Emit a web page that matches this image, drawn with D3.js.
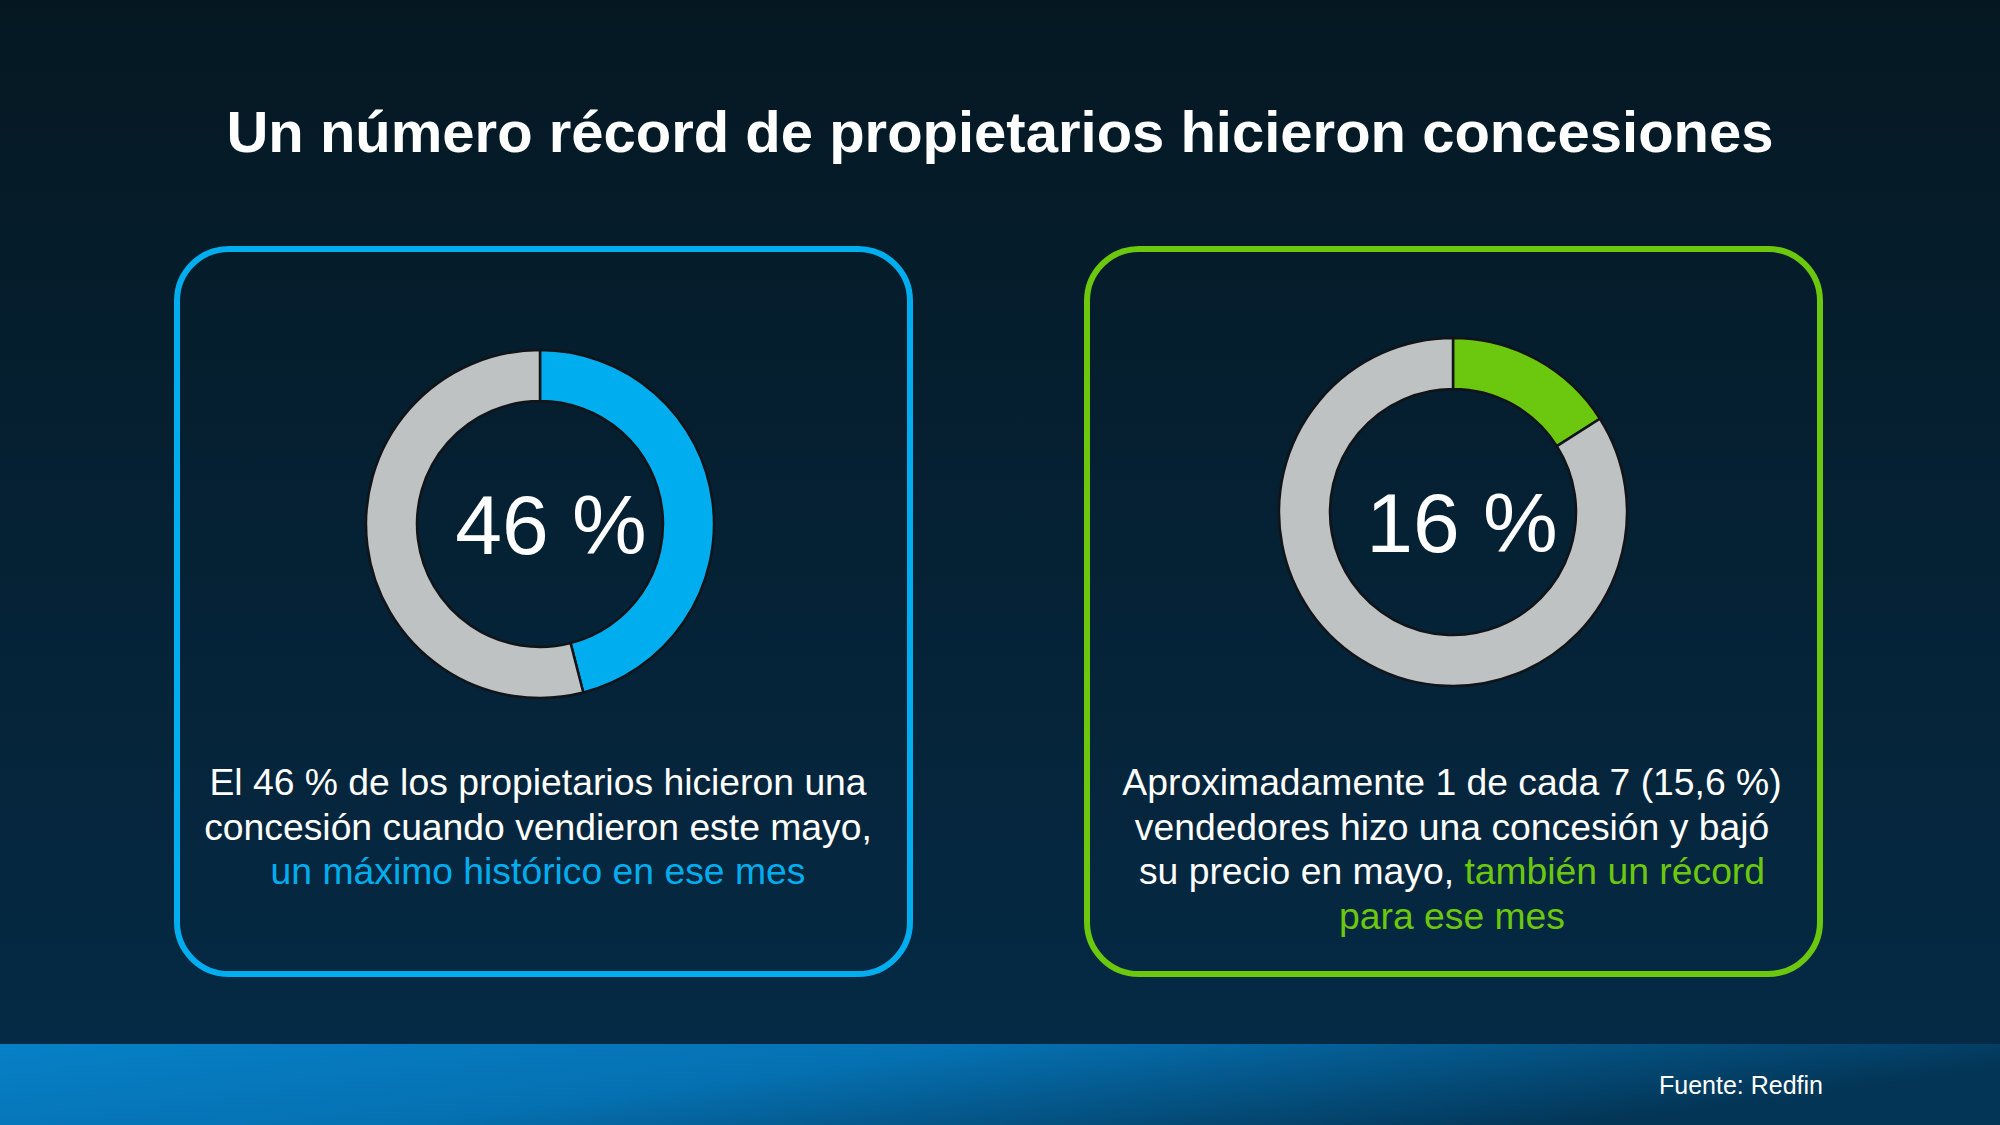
<!DOCTYPE html>
<html lang="es">

<head>
    <meta charset="UTF-8">
    <title>Concesiones</title>
    <script src="https://d3js.org/d3.v7.min.js"></script>
    <style>
        html, body {
            margin: 0;
            padding: 0;
            background: #051822;
        }
        svg {
            display: block;
            font-family: "Liberation Sans", Arial, sans-serif;
        }
    </style>
</head>

<body>
    <svg width="2000" height="1125"></svg>

    <script>
        // data
        const title = "Un número récord de propietarios hicieron concesiones";
        const source = "Fuente: Redfin";
        const shareValues = [46, 16];        // % that made a concession
        const restValues = [54, 84];
        const shareLabels = ["46 %", "16 %"];
        const accentColors = ["#00aeef", "#6cc70f"];
        // each line is a list of [text, highlighted?]
        const descLeft = [
            [["El 46 % de los propietarios hicieron una", false]],
            [["concesión cuando vendieron este mayo,", false]],
            [["un máximo histórico en ese mes", true]]
        ];
        const descRight = [
            [["Aproximadamente 1 de cada 7 (15,6 %)", false]],
            [["vendedores hizo una concesión y bajó", false]],
            [["su precio en mayo, ", false], ["también un récord", true]],
            [["para ese mes", true]]
        ];
        const descriptions = [descLeft, descRight];

        const svg = d3.select("svg");
        const defs = svg.append("defs");

        const bg = defs.append("linearGradient").attr("id", "bg")
            .attr("x1", 0).attr("y1", 0).attr("x2", 0).attr("y2", 1);
        bg.append("stop").attr("offset", "0%").attr("stop-color", "#051822");
        bg.append("stop").attr("offset", "100%").attr("stop-color", "#052a45");

        const foot = defs.append("linearGradient").attr("id", "foot")
            .attr("x1", 0).attr("y1", 0).attr("x2", 1).attr("y2", 0.3);
        foot.append("stop").attr("offset", "0%").attr("stop-color", "#0780c7");
        foot.append("stop").attr("offset", "45%").attr("stop-color", "#0571b2");
        foot.append("stop").attr("offset", "100%").attr("stop-color", "#033556");

        svg.append("rect").attr("width", 2000).attr("height", 1044).attr("fill", "url(#bg)");
        svg.append("rect").attr("y", 1044).attr("width", 2000).attr("height", 81).attr("fill", "url(#foot)");

        svg.append("text")
            .attr("x", 1000).attr("y", 152)
            .attr("text-anchor", "middle")
            .attr("font-size", 58).attr("font-weight", "bold")
            .attr("fill", "#ffffff")
            .text(title);

        svg.append("text")
            .attr("x", 1823).attr("y", 1094)
            .attr("text-anchor", "end")
            .attr("font-size", 25)
            .attr("fill", "#ffffff")
            .text(source);

        // panel layout
        const panels = [
            { box: [177, 249, 733, 725], cx: 540, cy: 524, lx: 551, ly: 554, tx: 538 },
            { box: [1087, 249, 733, 725], cx: 1453, cy: 512, lx: 1462, ly: 552, tx: 1452 }
        ];

        const pie = d3.pie().sort(null).value(d => d);
        const arc = d3.arc().innerRadius(123).outerRadius(174);

        panels.forEach(function (p, i) {
            const g = svg.append("g");
            g.append("rect")
                .attr("x", p.box[0]).attr("y", p.box[1])
                .attr("width", p.box[2]).attr("height", p.box[3])
                .attr("rx", 52).attr("ry", 52)
                .attr("fill", "none")
                .attr("stroke", accentColors[i])
                .attr("stroke-width", 6);

            const color = d3.scaleOrdinal().domain([0, 1]).range([accentColors[i], "#bec2c3"]);

            g.append("g")
                .attr("transform", `translate(${p.cx},${p.cy})`)
                .selectAll("path")
                .data(pie([shareValues[i], restValues[i]]))
                .join("path")
                .attr("d", arc)
                .attr("fill", (d, j) => color(j))
                .attr("stroke", "#111418")
                .attr("stroke-width", 2.5);

            g.append("text")
                .attr("x", p.lx).attr("y", p.ly)
                .attr("text-anchor", "middle")
                .attr("font-size", 84)
                .attr("fill", "#ffffff")
                .text(shareLabels[i]);

            const txt = g.append("text")
                .attr("text-anchor", "middle")
                .attr("font-size", 37.3)
                .attr("fill", "#ffffff");
            descriptions[i].forEach(function (line, k) {
                const row = txt.append("tspan")
                    .attr("x", p.tx)
                    .attr("y", 795 + k * 44.5);
                line.forEach(function (seg) {
                    row.append("tspan")
                        .attr("fill", seg[1] ? accentColors[i] : "#ffffff")
                        .text(seg[0]);
                });
            });
        });
    </script>
</body>

</html>
